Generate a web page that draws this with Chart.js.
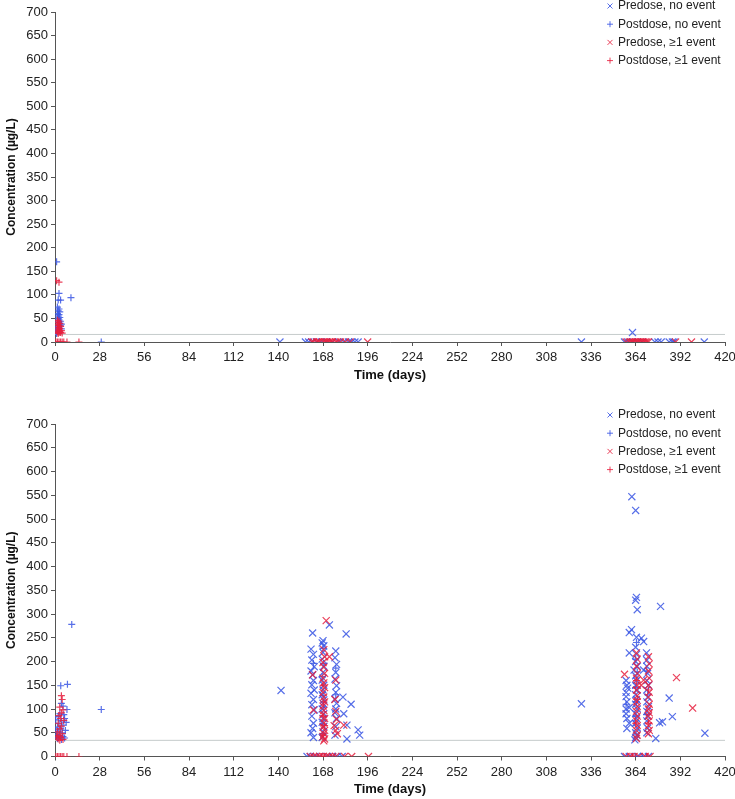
<!DOCTYPE html>
<html lang="en">
<head>
<meta charset="UTF-8">
<title>Concentration over time</title>
<script src="https://cdn.jsdelivr.net/npm/chart.js@4.4.1/dist/chart.umd.min.js"></script>
</head>
<body style="margin:0; background:#fff; width:735px; height:799px; overflow:hidden; position:relative;">
<div style="position:absolute; left:0; top:0; width:735px; height:392px;"><canvas id="topChart" width="735" height="392"></canvas></div>
<div style="position:absolute; left:0; top:392px; width:735px; height:407px;"><canvas id="bottomChart" width="735" height="407"></canvas></div>
<script>
// axis ranges
const dayMax = 420, dayStep = 28;
const concMax = 700, concStep = 50;

// horizontal reference lines (µg/L)
const topLloq = 16;
const bottomLloq = 34;

const seriesLabels = ['Predose, no event', 'Postdose, no event', 'Predose, \u22651 event', 'Postdose, \u22651 event'];

// ---- top panel: [day, concentration]
const topPreNo = [[141,0],[157,0],[159,0],[161,0],[164,0],[167,0],[170,0],[174,0],[178,0],[181,0],[184,0],[186,0],[188,0],[190,0],
  [330,0],[357,0],[359,0],[362,20],[362,0],[365,0],[368,0],[376,0],[378,0],[380,0],[385,0],[387,0],[388,0],[407,0]];
const topPostNo = [[1,170],[2.5,103],[2,89],[3.5,89],[10,94],[1.5,74],[2.5,70],[2,66],[3,64],[1.5,60],[2.5,58],[2,55],[3,52],[2,50],
  [2.5,47],[3.5,44],[2,42],[3,40],[4,38],[2.5,36],[3.5,34],[1.5,32],[2.5,30],[4,28],[0.5,27],[0.5,22],[1,18],[29,0]];
const topPreEv = [[161,0],[162,0],[164,0],[165,0],[166,0],[168,0],[169,0],[170,0],[171,0],[172,0],[173,0],[174,0],[176,0],[177,0],
  [179,0],[182,0],[185,0],[196,0],[358,0],[360,0],[361,0],[362,0],[363,0],[364,0],[365,0],[366,0],[367,0],[368,0],[369,0],
  [370,0],[371,0],[372,0],[389,0],[399,0]];
const topPostEv = [[1,130],[2.5,127],[1.5,46],[2.5,44],[2,41],[3,39],[1.5,37],[2.5,35],[3.5,33],[2,31],[3,29],[1.5,27],[2.5,25],
  [4,24],[2,23],[3,22],[1.5,21],[2.5,20],[3.5,20],[4.5,19],[2,18],[0.5,0],[1.5,0],[2.5,0],[3.5,0],[4.5,0],[5.5,0],[7.5,0],[15,0]];

// ---- bottom panel: [day, concentration]
const botPreNo = [[141.7,139],
  [161.5,260],[160.5,226],[162,215],[161,203],[162.5,189],[160.5,180],[161.5,172],[162,160],[161,151],[162.5,140],[160.5,133],
  [162,120],[161,109],[162.5,98],[161,85],[162,70],[161.5,59],[160.5,50],[162,40],
  [168,244],[167.5,239],[168.5,233],[168,219],[167.5,205],[168.5,190],[168,177],[167.5,161],[168.5,150],[168,140],[167.5,130],
  [168.5,119],[168,112],[167.5,100],[168.5,90],[168,80],[167.5,72],[168.5,63],[168,52],[167.5,40],
  [176,222],[175.5,208],[176.5,194],[176,177],[175.5,163],[176.5,149],[176,135],[175.5,121],[176.5,112],[176,100],[175.5,92],
  [176.5,80],[176,63],[175.5,45],
  [172,277],[182.5,258],[180.5,125],[185.6,110],[181,90],[183,66],[190,56],[191,45],[183,37],
  [158,0],[160,0],[163,0],[166,0],[171,0],[174,0],[177,0],[180,0],
  [330,111],
  [361.6,547],[364,518],[364.5,335],[364,329],[365,309],[379.6,316],[361.4,267],[360,261],[364.5,251],[367.6,249],[369,242],
  [360,218],[370.8,218],[371,203],[369,182],[363,182],[359,144],[358,126],[358,100],[360,103],[385,123],[387,84],[379,71],
  [380.8,73],[407.4,49],[376.6,38],[360,70],[358.5,59],[363.5,35],
  [364,230],[364.5,215],[364,200],[365,190],[364,170],[364.5,160],[364,150],[365,140],[364,130],[364.5,120],[364,110],[365,100],
  [364,90],[364.5,80],[364,70],[365,60],[364,50],[364.5,45],[364,40],
  [371,190],[371.5,175],[371,160],[372,150],[371,140],[371.5,125],[371,115],[372,105],[371,95],[371.5,85],[371,75],[371.5,60],[371,50],
  [358,160],[358.5,150],[358,135],[358.5,115],[358,90],[358.5,80],
  [357,0],[360,0],[365,0],[369,0],[372,0]];
const botPostNo = [[3.6,149],[7.8,152],[4,112],[5,106],[7.5,99],[3,90],[5.5,88],[2,84],[6,80],[0.5,77],[4,75],[7,72],[2.5,70],
  [5,66],[1.5,62],[3.5,58],[6.5,55],[0.5,56],[2,52],[4.5,50],[1,46],[3,44],[5,42],[2,40],[1.5,38],[4,36],[6,39],[10.5,278],[29,99],
  [168,228],[168.5,196],[167.5,168],[168,128],[168.5,104],[168,68],[168,48],[162,196],[176,186],[176,130],
  [364.5,240],[364,205],[365,178],[364,145],[364.5,115],[364,85],[371,180],[371.5,130],[371,88],[358,110],
  [364,0],[368,0]];
const botPreEv = [[170,286],[172,210],[176,161],[161.5,172],[162,98],[168.5,225],[169,210],[168,198],[168.5,188],[169,175],
  [168,165],[168.5,155],[169,145],[168,135],[168.5,125],[169,115],[168,106],[168.5,97],[168,88],[169,80],[168.5,71],[168,62],
  [169,55],[168.5,48],[168,42],[169,37],[168.5,33],[175.5,120],[176,95],[176.5,78],[175,65],[176,55],[177,48],[181,66],
  [160,0],[162,0],[164,0],[166,0],[168,0],[170,0],[172,0],[174,0],[176,0],[181.5,0],[186,0],[196.5,0],
  [357,173],[389.6,166],[399.7,102],[369,161],[367.5,150],
  [364.5,218],[365,205],[364.5,190],[365,175],[364.5,165],[365,150],[364.5,140],[365,128],[364.5,115],[365,105],[364.5,95],
  [365,85],[364.5,75],[365,65],[364.5,55],[365,45],[364.5,38],
  [372,210],[372.5,195],[372,180],[372.5,165],[372,150],[372.5,135],[372,125],[372.5,110],[372,100],[372.5,92],[372,85],
  [372.5,75],[372,65],[372.5,55],[372,48],
  [358,0],[361,0],[363,0],[366,0],[370,0],[373,0]];
const botPostEv = [[4,128],[4.5,120],[3,104],[5,98],[4,92],[2.5,86],[3.5,80],[5.5,76],[2,70],[4,64],[3,58],[1.5,52],[4.5,48],
  [2.5,44],[3.5,40],[2,37],[5,36],[1,42],[3,34],
  [0.5,0],[1.5,0],[2.5,0],[3.5,0],[4.5,0],[5.5,0],[7.5,0],[15,0],
  [168,150],[168.5,115],[168,85],[169,65],[168,45],[167,0],[169,0],
  [364.5,160],[365,120],[364,70],[372,140],[372,70],[371,0],[362,0]];

const blue = 'rgba(58,86,228,0.85)';
const red = 'rgba(230,32,62,0.85)';
const font = '"Liberation Sans", Arial, sans-serif';

function toPoints(pairs) {
  return pairs.map(p => ({ x: p[0], y: p[1] }));
}

// legend stacked in the upper right corner, over the plot
const cornerLegend = {
  id: 'cornerLegend',
  afterDraw(chart, args, opts) {
    const ctx = chart.ctx;
    const area = chart.chartArea;
    ctx.save();
    ctx.font = '12px ' + font;
    ctx.textBaseline = 'middle';
    ctx.lineWidth = 1;
    let row = 0;
    chart.data.datasets.forEach(ds => {
      if (!ds.inLegend) return;
      const x = area.right - 115;
      const y = area.top + opts.offsetY + row * 18.2;
      ctx.strokeStyle = ds.borderColor;
      ctx.beginPath();
      if (ds.pointStyle === 'crossRot') {
        ctx.moveTo(x - 2.5, y - 2.5); ctx.lineTo(x + 2.5, y + 2.5);
        ctx.moveTo(x - 2.5, y + 2.5); ctx.lineTo(x + 2.5, y - 2.5);
      } else {
        ctx.moveTo(x - 3, y); ctx.lineTo(x + 3, y);
        ctx.moveTo(x, y - 3); ctx.lineTo(x, y + 3);
      }
      ctx.stroke();
      ctx.fillStyle = '#222';
      ctx.fillText(ds.label, x + 8, y);
      row++;
    });
    ctx.restore();
  }
};

function makeChart(id, series, lloq, padding, legendOffset) {
  const styles = [['crossRot', blue, 5], ['cross', blue, 3.5], ['crossRot', red, 5], ['cross', red, 3.5]];
  const datasets = series.map((pairs, i) => ({
    label: seriesLabels[i],
    data: toPoints(pairs),
    pointStyle: styles[i][0],
    borderColor: styles[i][1],
    backgroundColor: styles[i][1],
    pointRadius: styles[i][2],
    pointBorderWidth: 1.2,
    showLine: false,
    inLegend: true,
    order: i < 2 ? 2 : 1
  }));
  datasets.push({
    type: 'line',
    label: 'LLOQ',
    data: [{ x: 0, y: lloq }, { x: dayMax, y: lloq }],
    borderColor: '#c6cccc',
    borderWidth: 1,
    pointRadius: 0,
    order: 5
  });

  return new Chart(document.getElementById(id), {
    type: 'scatter',
    data: { datasets: datasets },
    plugins: [cornerLegend],
    options: {
      responsive: false,
      animation: false,
      layout: { padding: padding },
      plugins: {
        legend: { display: false },
        tooltip: { enabled: false },
        cornerLegend: { offsetY: legendOffset }
      },
      scales: {
        x: {
          type: 'linear',
          min: 0,
          max: dayMax,
          afterFit: scale => { scale.height = 41; scale.paddingRight = 10; },
          grid: { display: true, drawOnChartArea: false, drawTicks: true, tickLength: 4, color: '#555' },
          border: { display: true, color: '#555', width: 1 },
          ticks: { stepSize: dayStep, autoSkip: false, maxRotation: 0, padding: 4, color: '#222', font: { family: font, size: 13 } },
          title: { display: true, text: 'Time (days)', color: '#111', padding: { top: 2, bottom: 0 },
                   font: { family: font, size: 13, weight: 'bold' } }
        },
        y: {
          type: 'linear',
          min: 0,
          max: concMax,
          afterFit: scale => { scale.width = 55; },
          grid: { display: true, drawOnChartArea: false, drawTicks: true, tickLength: 4, color: '#555' },
          border: { display: true, color: '#555', width: 1 },
          ticks: { stepSize: concStep, padding: 3, color: '#222', font: { family: font, size: 13 } },
          title: { display: true, text: 'Concentration (\u00b5g/L)', color: '#111', padding: { top: 4, bottom: 0 },
                   font: { family: font, size: 12, weight: 'bold' } }
        }
      }
    }
  });
}

makeChart('topChart', [topPreNo, topPostNo, topPreEv, topPostEv], topLloq,
  { top: 12, right: 0, bottom: 9, left: 0 }, -6);
makeChart('bottomChart', [botPreNo, botPostNo, botPreEv, botPostEv], bottomLloq,
  { top: 32, right: 0, bottom: 1.5, left: 0 }, -9);
</script>
</body>
</html>
